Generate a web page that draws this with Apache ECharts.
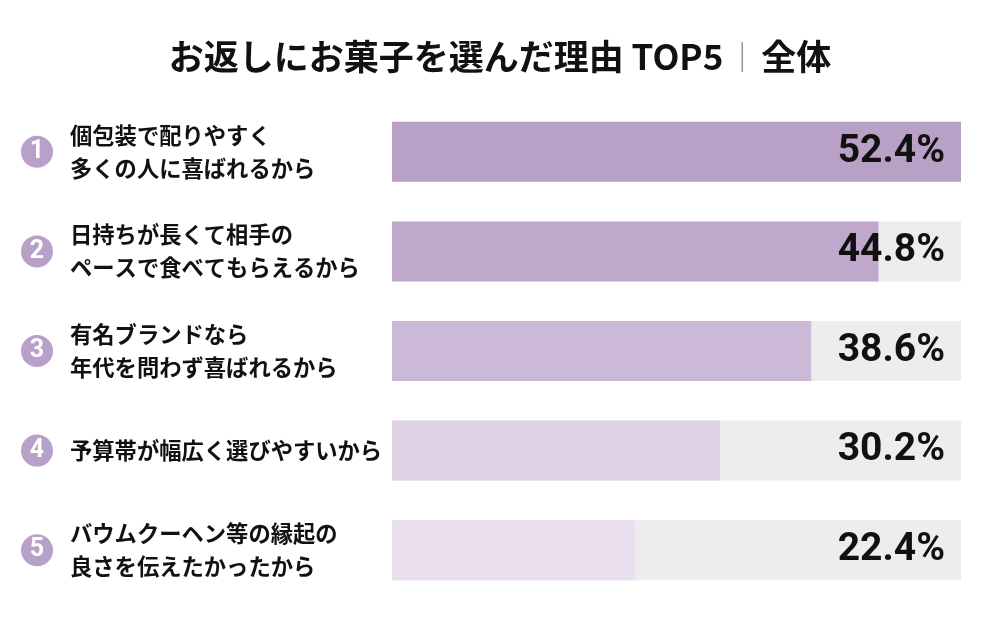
<!DOCTYPE html>
<html><head><meta charset="utf-8">
<script src="https://cdn.jsdelivr.net/npm/echarts@6/dist/echarts.min.js"></script>
<style>html,body{margin:0;padding:0;background:#fff}#c{width:1000px;height:619px}</style>
</head><body><div id="c"></div>
<script>
const ranks = ['1','2','3','4','5'];
const categories = [
  '個包装で配りやすく\n多くの人に喜ばれるから',
  '日持ちが長くて相手の\nペースで食べてもらえるから',
  '有名ブランドなら\n年代を問わず喜ばれるから',
  '予算帯が幅広く選びやすいから',
  'バウムクーヘン等の縁起の\n良さを伝えたかったから'
];
const values = [52.4, 44.8, 38.6, 30.2, 22.4];
const barColors = ['#b9a0c6', '#bfa8cc', '#cbb9d7', '#dfd2e5', '#e9dfee'];
const axisMax = 52.4;

const chart = echarts.init(document.getElementById('c'));
const cjk = '"Noto Sans CJK JP", "Noto Sans CJK SC", sans-serif';
const numFont = 'Roboto, "Liberation Sans", sans-serif';
chart.setOption({
  animation: false,
  backgroundColor: '#ffffff',
  title: {
    text: '{t|お返しにお菓子を選んだ理由 TOP5}{s|｜}{t|全体}',
    left: 'center', top: 34,
    textStyle: {
      rich: {
        t: { fontFamily: cjk, fontWeight: 'bold', fontSize: 35, color: '#111', letterSpacing: 0.5 },
        s: { fontFamily: cjk, fontWeight: 'normal', fontSize: 30, color: '#888', padding: [0, 4, 0, 4] }
      }
    }
  },
  grid: { left: 392, right: 39, top: 102, bottom: 19 },
  xAxis: { type: 'value', min: 0, max: axisMax, show: false },
  yAxis: [
    {
      type: 'category', data: categories, inverse: true,
      axisLine: { show: false }, axisTick: { show: false },
      axisLabel: {
        align: 'left', margin: 322,
        fontFamily: cjk, fontWeight: 'bold', fontSize: 22.3, lineHeight: 33, color: '#111'
      }
    },
    {
      type: 'category', data: ranks, inverse: true, position: 'left',
      axisLine: { show: false }, axisTick: { show: false },
      axisLabel: {
        margin: 355, align: 'center',
        fontFamily: numFont, fontWeight: 'bold', fontSize: 25, color: '#fff',
        formatter: v => '{c|' + v + '}',
        rich: {
          c: {
            width: 32, height: 32, lineHeight: 32, borderRadius: 16,
            backgroundColor: '#b8a0c8', color: '#fff', align: 'center',
            fontFamily: numFont, fontWeight: 'bold', fontSize: 25
          }
        }
      }
    }
  ],
  series: [
    {
      type: 'bar', yAxisIndex: 0, barWidth: 60,
      data: values.map((v, i) => ({ value: v, itemStyle: { color: barColors[i] } })),
      showBackground: true,
      backgroundStyle: { color: '#ededed' },
      silent: true
    },
    {
      type: 'bar', yAxisIndex: 0, barWidth: 60, barGap: '-100%', z: 5,
      data: values.map(() => axisMax),
      itemStyle: { color: 'rgba(0,0,0,0)' },
      silent: true,
      label: {
        show: true, position: 'insideRight', distance: 16,
        formatter: p => values[p.dataIndex].toFixed(1) + '%',
        fontFamily: numFont, fontWeight: 'bold', fontSize: 39, color: '#111'
      }
    }
  ]
});
</script></body></html>
